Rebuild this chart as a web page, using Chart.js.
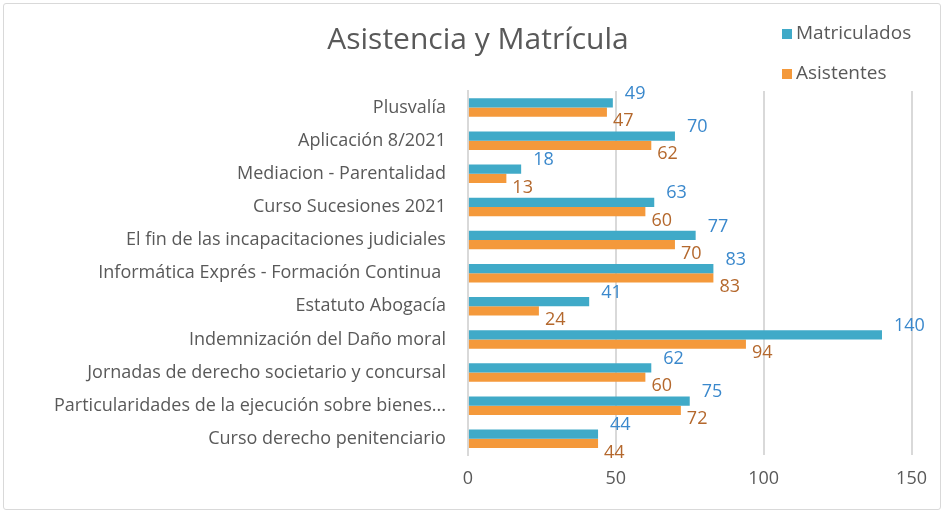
<!DOCTYPE html>
<html>
<head>
<meta charset="utf-8">
<script src="https://cdn.jsdelivr.net/npm/chart.js@4"></script>
<style>
  html, body { margin: 0; padding: 0; background: #fff; }
  #wrap { position: absolute; left: 3px; top: 3px; width: 936px; height: 505px; border: 1px solid #d9d9d9; border-radius: 3px; }
  canvas { display: block; }
</style>
</head>
<body>
<div id="wrap"><canvas id="chart" width="936" height="505"></canvas></div>
<script>
"use strict";

// data, top to bottom
var categories = [
    "Plusvalía",
    "Aplicación 8/2021",
    "Mediacion - Parentalidad",
    "Curso Sucesiones 2021",
    "El fin de las incapacitaciones judiciales",
    "Informática Exprés - Formación Continua ",
    "Estatuto Abogacía",
    "Indemnización del Daño moral",
    "Jornadas de derecho societario y concursal",
    "Particularidades de la ejecución sobre bienes...",
    "Curso derecho penitenciario"
];
var matriculados = [49, 70, 18, 63, 77, 83, 41, 140, 62, 75, 44];
var asistentes = [47, 62, 13, 60, 70, 83, 24, 94, 60, 72, 44];
var xTicks = [0, 50, 100, 150];

var FONT = "'Open Sans', 'Noto Sans', sans-serif";
var GREY = "#595959";

// value labels next to the bar ends
var valueLabels = {
    id: "valueLabels",
    afterDatasetsDraw: function(chart) {
        var ctx = chart.ctx;
        ctx.save();
        ctx.font = "18px " + FONT;
        ctx.textBaseline = "middle";
        ctx.textAlign = "left";
        chart.data.datasets.forEach(function(ds, di) {
            var meta = chart.getDatasetMeta(di);
            meta.data.forEach(function(bar, i) {
                ctx.fillStyle = ds.labelColor;
                var dx = di === 0 ? 12 : 6;
                var dy = di === 0 ? -9 : 9;
                ctx.fillText(String(ds.data[i]), bar.x + dx, bar.y + dy);
            });
        });
        ctx.restore();
    }
};

// vertical legend in the top right corner
var sideLegend = {
    id: "sideLegend",
    afterDraw: function(chart) {
        var ctx = chart.ctx;
        ctx.save();
        ctx.font = "19px " + FONT;
        ctx.textBaseline = "middle";
        chart.data.datasets.forEach(function(ds, i) {
            var y = 30 + i * 40;
            ctx.fillStyle = ds.backgroundColor;
            ctx.fillRect(778, y - 5, 10, 10);
            ctx.fillStyle = GREY;
            ctx.fillText(ds.label, 792, y);
        });
        ctx.restore();
    }
};

new Chart(document.getElementById("chart"), {
    type: "bar",
    data: {
        labels: categories,
        datasets: [
            { label: "Matriculados", data: matriculados, backgroundColor: "#40aac8", labelColor: "#3a88cc" },
            { label: "Asistentes", data: asistentes, backgroundColor: "#f4993b", labelColor: "#b4682d" }
        ]
    },
    options: {
        indexAxis: "y",
        responsive: false,
        animation: false,
        layout: { padding: { left: 36, right: 24, top: 0, bottom: 6 } },
        datasets: {
            bar: { categoryPercentage: 0.56, barPercentage: 1.0 }
        },
        scales: {
            x: {
                min: 0,
                max: 150,
                afterBuildTicks: function(axis) {
                    axis.ticks = xTicks.map(function(v) { return { value: v }; });
                },
                grid: { color: "#d9d9d9", lineWidth: 2, drawTicks: false },
                border: { display: false },
                ticks: { color: GREY, font: { family: FONT, size: 18 }, padding: 13 }
            },
            y: {
                grid: { display: false },
                border: { color: "#d9d9d9", width: 2 },
                ticks: { color: GREY, font: { family: FONT, size: 18 }, padding: 14, autoSkip: false }
            }
        },
        plugins: {
            legend: { display: false },
            tooltip: { enabled: false },
            title: {
                display: true,
                text: "Asistencia y Matrícula",
                color: GREY,
                font: { family: FONT, size: 30, weight: "normal" },
                padding: { top: 18, bottom: 33 }
            }
        }
    },
    plugins: [valueLabels, sideLegend]
});
</script>
</body>
</html>
